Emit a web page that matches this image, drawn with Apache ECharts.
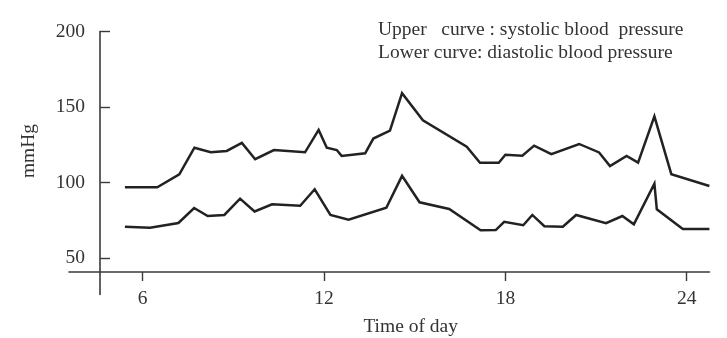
<!DOCTYPE html>
<html>
<head>
<meta charset="utf-8">
<script src="https://cdn.jsdelivr.net/npm/echarts@6/dist/echarts.min.js"></script>
<style>
  html, body { margin: 0; padding: 0; background: #ffffff; }
  #chart { width: 727px; height: 338px; }
</style>
</head>
<body>
<div id="chart"></div>
<script>
// Hour of day for each reading of the systolic (upper) curve
const systolicHours = [5.41, 6.48, 7.21, 7.71, 8.25, 8.78, 9.28, 9.72, 10.34, 11.37, 11.82, 12.09, 12.42, 12.58,
  13.36, 13.63, 14.18, 14.58, 15.27, 16.72, 17.16, 17.78, 18.00, 18.56, 18.95, 19.52, 20.44, 21.10,
  21.46, 22.01, 22.39, 22.93, 23.49, 24.75];
const systolicValues = [96.9, 96.9, 105.5, 123.1, 120.1, 121.0, 126.3, 115.5, 121.6, 120.1, 134.9, 123.1, 121.6, 117.7,
  119.4, 129.2, 134.5, 159.2, 141.3, 123.8, 113.2, 113.2, 118.5, 117.8, 124.5, 118.8, 125.6, 120.0,
  111.0, 117.7, 113.3, 143.9, 105.6, 97.8];

// Hour of day for each reading of the diastolic (lower) curve
const diastolicHours = [5.41, 6.24, 7.18, 7.70, 8.15, 8.70, 9.22, 9.70, 10.28, 11.21, 11.69, 12.21, 12.81, 14.06,
  14.58, 15.16, 16.14, 17.18, 17.68, 17.96, 18.59, 18.89, 19.29, 19.90, 20.34, 21.33, 21.87, 22.25,
  22.93, 23.01, 23.87, 24.75];
const diastolicValues = [70.8, 70.2, 73.3, 83.2, 77.9, 78.6, 89.4, 80.9, 85.7, 84.7, 95.6, 78.6, 75.5, 83.4,
  104.5, 87.0, 82.6, 68.5, 68.6, 74.1, 71.8, 78.6, 71.1, 70.8, 78.6, 73.1, 77.9, 72.4,
  99.3, 82.4, 69.3, 69.3];

const hourTicks = [6, 12, 18, 24];
const pressureTicks = [50, 100, 150, 200];

const legendLines = [
  'Upper   curve : systolic blood  pressure',
  'Lower curve: diastolic blood pressure'
];

const pair = (xs, ys) => xs.map((x, i) => [x, ys[i]]);

const FONT = '"Liberation Serif", "Times New Roman", serif';
const TEXT = '#333333';
const INK = '#222222';

const chart = echarts.init(document.getElementById('chart'), null, { renderer: 'canvas' });

chart.setOption({
  animation: false,
  backgroundColor: '#ffffff',
  title: {
    text: legendLines.join('\n'),
    left: 378,
    top: 18,
    padding: 0,
    textStyle: {
      fontFamily: FONT,
      fontSize: 19.5,
      fontWeight: 'normal',
      color: TEXT,
      lineHeight: 23
    }
  },
  grid: {
    left: 69,
    right: 17.6,
    top: 31.6,
    bottom: 43.6,
    containLabel: false,
    outerBoundsMode: 'none'
  },
  xAxis: {
    type: 'value',
    min: 3.56,
    max: 24.75,
    offset: -22.4,
    name: 'Time of day',
    nameLocation: 'middle',
    nameGap: 45,
    nameTextStyle: {
      fontFamily: FONT,
      fontSize: 19.5,
      color: TEXT,
      padding: [0, 0, 0, 43]
    },
    axisLine: { show: true, onZero: false, lineStyle: { color: '#3a3a3a', width: 1.6 } },
    axisTick: { show: true, inside: false, length: 9, customValues: hourTicks, lineStyle: { color: '#3a3a3a', width: 1.4 } },
    axisLabel: { show: true, customValues: hourTicks, margin: 16.5, fontFamily: FONT, fontSize: 19.5, color: TEXT },
    splitLine: { show: false }
  },
  yAxis: {
    type: 'value',
    min: 26,
    max: 200,
    offset: -31,
    name: 'mmHg',
    nameLocation: 'middle',
    nameGap: 61,
    nameTextStyle: {
      fontFamily: FONT,
      fontSize: 19.5,
      color: TEXT,
      padding: [0, 0, 0, 24]
    },
    axisLine: { show: true, onZero: false, lineStyle: { color: '#3a3a3a', width: 1.6 } },
    axisTick: { show: true, inside: true, length: 10, customValues: pressureTicks, lineStyle: { color: '#3a3a3a', width: 1.4 } },
    axisLabel: { show: true, customValues: pressureTicks, margin: 15, fontFamily: FONT, fontSize: 19.5, color: TEXT },
    splitLine: { show: false }
  },
  series: [
    {
      name: 'Systolic',
      type: 'line',
      data: pair(systolicHours, systolicValues),
      showSymbol: false,
      symbol: 'none',
      clip: false,
      lineStyle: { color: INK, width: 2.5, join: 'miter' }
    },
    {
      name: 'Diastolic',
      type: 'line',
      data: pair(diastolicHours, diastolicValues),
      showSymbol: false,
      symbol: 'none',
      clip: false,
      lineStyle: { color: INK, width: 2.5, join: 'miter' }
    }
  ]
});
</script>
</body>
</html>
